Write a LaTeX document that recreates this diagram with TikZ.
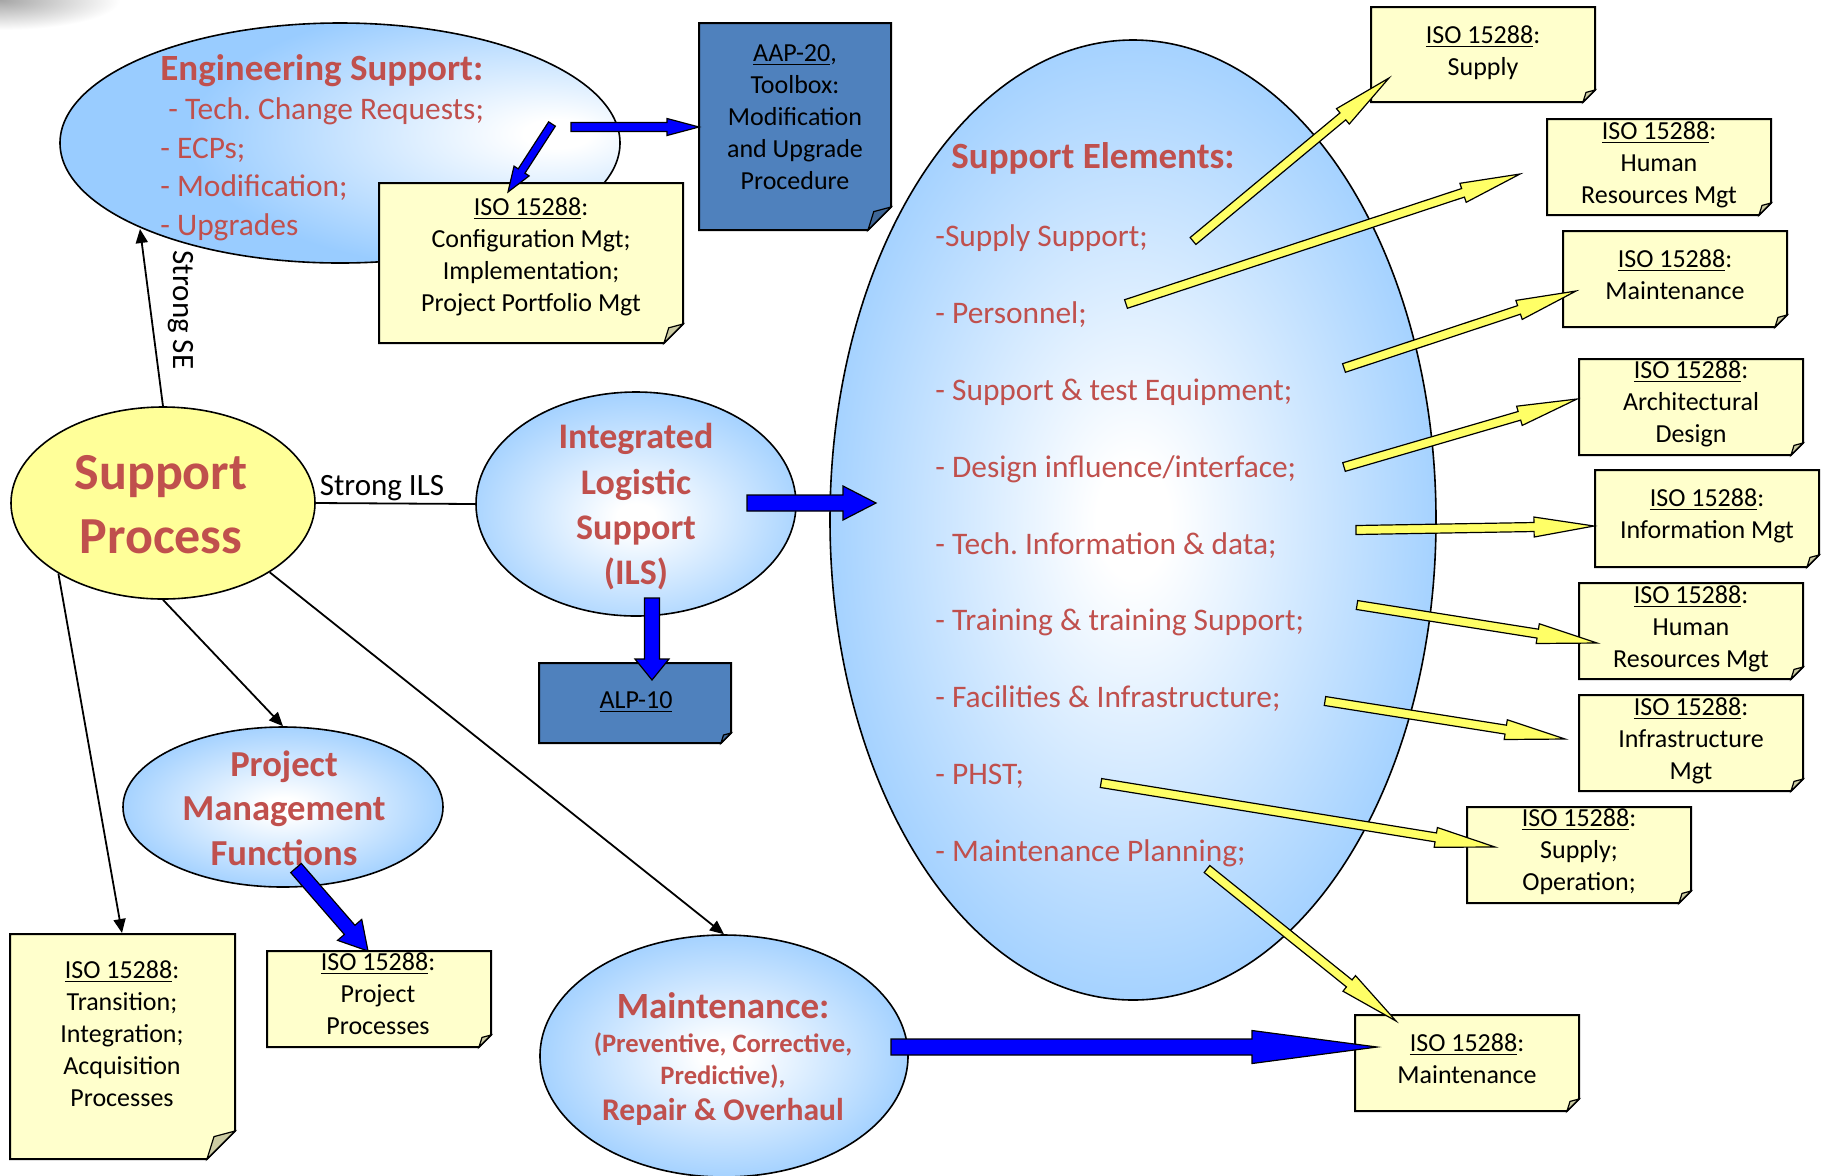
\documentclass[tikz,border=0pt]{standalone}
\usepackage{fontspec}
\setmainfont{Carlito}
\frenchspacing
\usetikzlibrary{calc,arrows.meta,shapes.geometric}
\definecolor{accred}{RGB}{192,80,77}
\definecolor{ellblue}{RGB}{153,204,255}
\definecolor{spyellow}{RGB}{255,255,153}
\definecolor{boxyellow}{RGB}{255,255,204}
\definecolor{dkblue}{RGB}{79,129,189}
\definecolor{arryellow}{RGB}{255,255,102}
\definecolor{pureblue}{RGB}{0,0,255}
\pgfdeclareradialshading{ellc}{\pgfpoint{0bp}{0bp}}{color(0bp)=(white); color(3bp)=(white); color(28bp)=(ellblue); color(100bp)=(ellblue)}
\pgfdeclareradialshading{ellr}{\pgfpoint{20bp}{2bp}}{color(0bp)=(white); color(3bp)=(white); color(28bp)=(ellblue); color(100bp)=(ellblue)}
\pgfdeclareradialshading{ellb}{\pgfpoint{0bp}{-3bp}}{color(0bp)=(white); color(3bp)=(white); color(30bp)=(ellblue); color(100bp)=(ellblue)}
\newcommand\mystrut{\rule[-0.16em]{0pt}{1em}}
% folded-corner box: x1 y1 x2 y2 fold fillcolour
\newcommand\foldbx[6]{%
  \draw[boxl, fill=#6] (#1,#2) -- (#3,#2) -- (#3,{#4-#5}) -- ({#3-#5},#4) -- (#1,#4) -- cycle;
  \draw[foldl, fill=#6!80!black] (#3,{#4-#5}) -- ({#3-#5},#4) -- ({#3-0.75*#5},{#4-0.8*#5}) -- cycle;}
% block arrow: start end shafthalf headhalf headlength style
\newcommand\blockarr[6]{%
  \coordinate (bah) at ($(#2)!#5!(#1)$);
  \draw[#6] ($(#1)!#3!90:(#2)$) -- ($(bah)!#3!90:(#2)$) -- ($(bah)!#4!90:(#2)$) -- (#2) -- ($(bah)!#4!-90:(#2)$) -- ($(bah)!#3!-90:(#2)$) -- ($(#1)!#3!-90:(#2)$) -- cycle;}
\begin{document}
\begin{tikzpicture}[x=0.5pt,y=-0.5pt,
  ell/.style={ellipse, draw=black, line width=0.8pt, inner sep=0pt, shade, shading=ellc},
  boxl/.style={draw=black, line width=1pt},
  foldl/.style={draw=black, line width=0.6pt},
  barr/.style={draw=black, line width=0.6pt, fill=pureblue},
  yarr/.style={draw=black, line width=0.6pt, fill=arryellow},
  conn/.style={-{Triangle[length=7pt,width=6pt]}, line width=0.9pt},
  btxt/.style={inner sep=0pt, align=center, font=\fontsize{13}{16}\selectfont},
  redtitle/.style={inner sep=0pt, text=accred, font=\fontsize{18.5}{22}\selectfont\bfseries},
  reditem/.style={inner sep=0pt, text=accred},
  lbl/.style={inner sep=0pt, font=\fontsize{15.5}{19}\selectfont}]
\fill[white] (0,0) rectangle (1826,1175);
\useasboundingbox (0,0) rectangle (1826,1175);
% corner smudge
\begin{scope}
  \clip (0,0) rectangle (150,40);
  \shade[inner color=black!35, outer color=white] (0,0) ellipse [x radius=120, y radius=30];
\end{scope}
% ---------------- Engineering support
\node[ell, shading=ellr, minimum width=280pt, minimum height=120pt] (eng) at (340,143) {};
\node[redtitle, anchor=west] (engt) at (160,68) {\mystrut Engineering Support:};
\node[reditem, anchor=west, align=left, font=\fontsize{15.7}{19.35}\selectfont] (engi) at (160,167)
  {\mystrut\hspace{4pt}- Tech. Change Requests;\\- ECPs;\\- Modification;\\- Upgrades\mystrut};
\foldbx{699}{23}{891}{230}{23}{dkblue}
\node[btxt] (aap) at (795,117) {\mystrut\underline{AAP-20},\\Toolbox:\\Modification\\and Upgrade\\Procedure\mystrut};
\foldbx{379}{183}{683}{343}{19}{boxyellow}
\node[btxt] (conf) at (531,255) {\mystrut\underline{ISO 15288}:\\Configuration Mgt;\\Implementation;\\Project Portfolio Mgt\mystrut};
\coordinate (b1s) at (571,127); \coordinate (b1e) at (699,127);
\blockarr{b1s}{b1e}{2.25pt}{4.25pt}{16pt}{barr}
\coordinate (b2s) at (552,124); \coordinate (b2e) at (508,192);
\blockarr{b2s}{b2e}{2pt}{4.5pt}{12.5pt}{barr}
% ---------------- Support elements
\node[ell, minimum width=303pt, minimum height=480pt] (se) at (1133,520) {};
\node[redtitle, anchor=west] (set) at (951,156) {\mystrut Support Elements:};
\node[reditem, anchor=west, align=left, font=\fontsize{15.7}{38.45}\selectfont] (sei) at (935,543.5)
  {\mystrut -Supply Support;\\- Personnel;\\- Support \& test Equipment;\\- Design influence/interface;\\- Tech. Information \& data;\\- Training \& training Support;\\- Facilities \& Infrastructure;\\- PHST;\\- Maintenance Planning;\mystrut};
% right boxes
\foldbx{1371}{7}{1595}{102}{12}{boxyellow}
\node[btxt] (r1) at (1483,51) {\mystrut\underline{ISO 15288}:\\Supply\mystrut};
\foldbx{1547}{119}{1771}{215}{12}{boxyellow}
\node[btxt] (r2) at (1659,163) {\mystrut\underline{ISO 15288}:\\Human\\Resources Mgt\mystrut};
\foldbx{1563}{231}{1787}{327}{12}{boxyellow}
\node[btxt] (r3) at (1675,274.5) {\mystrut\underline{ISO 15288}:\\Maintenance\mystrut};
\foldbx{1579}{359}{1803}{455}{12}{boxyellow}
\node[btxt] (r4) at (1691,402) {\mystrut\underline{ISO 15288}:\\Architectural\\Design\mystrut};
\foldbx{1595}{470}{1819}{567}{12}{boxyellow}
\node[btxt] (r5) at (1707,514) {\mystrut\underline{ISO 15288}:\\Information Mgt\mystrut};
\foldbx{1579}{583}{1803}{679}{12}{boxyellow}
\node[btxt] (r6) at (1691,627) {\mystrut\underline{ISO 15288}:\\Human\\Resources Mgt\mystrut};
\foldbx{1579}{695}{1803}{791}{12}{boxyellow}
\node[btxt] (r7) at (1691,739) {\mystrut\underline{ISO 15288}:\\Infrastructure\\Mgt\mystrut};
\foldbx{1467}{807}{1691}{903}{12}{boxyellow}
\node[btxt] (r8) at (1579,850) {\mystrut\underline{ISO 15288}:\\Supply;\\Operation;\mystrut};
\foldbx{1355}{1015}{1579}{1111}{12}{boxyellow}
\node[btxt] (r9) at (1467,1058.5) {\mystrut\underline{ISO 15288}:\\Maintenance\mystrut};
% yellow arrows
\coordinate (y1s) at (1193,241); \coordinate (y1e) at (1389,78);
\coordinate (y2s) at (1126,304); \coordinate (y2e) at (1520,174);
\coordinate (y3s) at (1344,368); \coordinate (y3e) at (1576,291);
\coordinate (y4s) at (1344,467); \coordinate (y4e) at (1577,399);
\coordinate (y5s) at (1356,530); \coordinate (y5e) at (1594,526);
\coordinate (y6s) at (1357,605); \coordinate (y6e) at (1597,643);
\coordinate (y7s) at (1325,701); \coordinate (y7e) at (1565,739);
\coordinate (y8s) at (1101,783); \coordinate (y8e) at (1495,847);
\coordinate (y9s) at (1207,869); \coordinate (y9e) at (1396,1021);
\foreach \i in {1,...,9}{\blockarr{y\i s}{y\i e}{2.25pt}{5pt}{30pt}{yarr}}
% ---------------- ILS
\node[ell, shading=ellb, minimum width=160pt, minimum height=112pt] (ils) at (636,504) {};
\node[inner sep=0pt, align=center, text=accred, font=\fontsize{18}{22.7}\selectfont\bfseries] (ilst) at (636,504.5)
  {\mystrut Integrated\\Logistic\\Support\\(ILS)\mystrut};
\coordinate (b3s) at (747,503); \coordinate (b3e) at (876,503);
\blockarr{b3s}{b3e}{4pt}{8.5pt}{16.5pt}{barr}
\foldbx{539}{663}{731}{743}{10}{dkblue}
\node[btxt] (alp) at (636,700) {\mystrut\underline{ALP-10}\mystrut};
\coordinate (b4s) at (652,598); \coordinate (b4e) at (652,680);
\blockarr{b4s}{b4e}{3.75pt}{8.5pt}{10.5pt}{barr}
% ---------------- Support process
\node[ellipse, draw=black, fill=spyellow, line width=0.8pt, inner sep=0pt, minimum width=152pt, minimum height=96pt] (sp) at (163,503) {};
\node[inner sep=0pt, align=center, text=accred, font=\fontsize{26}{32}\selectfont\bfseries] (spt) at (161,504)
  {\mystrut Support\\Process\mystrut};
\coordinate (k1e) at (140,229);
\draw[conn] (sp.north) -- (k1e);
\node[lbl, rotate=-90] (sse) at (184,310) {\mystrut Strong SE};
\draw[line width=0.9pt] (sp.east) -- (ils.west);
\node[lbl] (sils) at (382,485) {\mystrut Strong ILS};
% ---------------- Project management functions
\node[ell, minimum width=160pt, minimum height=80pt] (pmf) at (283,807) {};
\node[inner sep=0pt, align=center, text=accred, font=\fontsize{18.3}{22.25}\selectfont\bfseries] (pmft) at (284,808.5)
  {\mystrut Project\\Management\\Functions\mystrut};
\draw[conn] (sp.south) -- (pmf.north);
% ---------------- Maintenance
\node[ell, minimum width=184pt, minimum height=121pt] (mnt) at (724,1056) {};
\node[inner sep=0pt, text=accred, font=\fontsize{18.5}{22}\selectfont\bfseries] (mt1) at (723,1006) {\mystrut Maintenance:};
\node[inner sep=0pt, align=center, text=accred, font=\fontsize{13.3}{16}\selectfont\bfseries] (mt2) at (723,1059) {\mystrut(Preventive, Corrective,\\Predictive),\mystrut};
\node[inner sep=0pt, text=accred, font=\fontsize{15.8}{19}\selectfont\bfseries] (mt3) at (723,1110) {\mystrut Repair \& Overhaul};
\draw[conn] (sp.327.6) -- (mnt.north);
\coordinate (b6s) at (891,1047); \coordinate (b6e) at (1377,1047);
\blockarr{b6s}{b6e}{4pt}{8.25pt}{62.5pt}{barr}
% ---------------- lower-left boxes
\foldbx{10}{934}{235}{1159}{28}{boxyellow}
\node[btxt] (tra) at (122,1034) {\mystrut\underline{ISO 15288}:\\Transition;\\Integration;\\Acquisition\\Processes\mystrut};
\coordinate (k3e) at (122,933);
\draw[conn] (sp.214) -- (k3e);
\foldbx{267}{951}{491}{1047}{12}{boxyellow}
\node[btxt] (pp) at (378,994) {\mystrut\underline{ISO 15288}:\\Project\\Processes\mystrut};
\coordinate (b5s) at (296,868); \coordinate (b5e) at (368,951);
\blockarr{b5s}{b5e}{3.5pt}{8pt}{14pt}{barr}
\end{tikzpicture}
\end{document}
